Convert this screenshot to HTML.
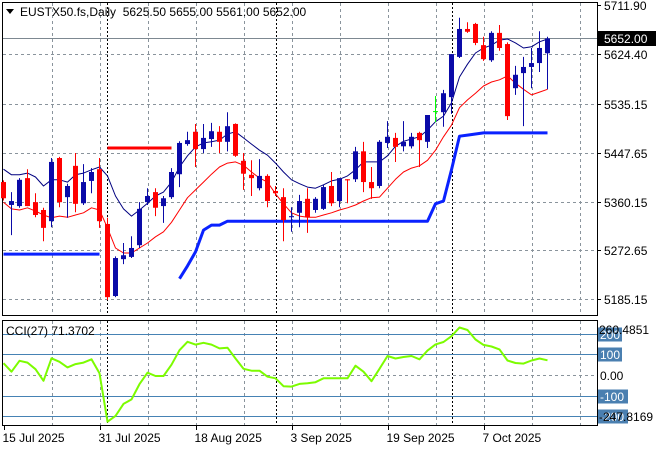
<!DOCTYPE html>
<html><head><meta charset="utf-8"><style>
html,body{margin:0;padding:0;background:#fff;}
svg{display:block;font-family:"Liberation Sans",sans-serif;font-size:12px;}
</style></head><body>
<svg id="c" width="660" height="450" viewBox="0 0 660 450" xmlns="http://www.w3.org/2000/svg"></svg>
<script>
const opens=[5395,5354,5352,5402,5359,5345,5325,5438,5368,5424,5357,5397,5418,5320,5191,5257,5261,5282,5359,5377,5352,5368,5409,5463,5485,5454,5472,5485,5467,5499,5433,5408,5384,5406,5379,5368,5332,5340,5365,5345,5347,5388,5361,5400,5400,5450,5395,5388,5465,5474,5459,5459,5483,5467,5522,5520,5547,5619,5669,5678,5640,5613,5662,5642,5563,5590,5601,5608,5625.5];
const highs=[5398,5377,5402,5418,5375,5349,5438,5440,5392,5447,5427,5420,5438,5331,5262,5286,5298,5359,5384,5384,5370,5420,5468,5485,5499,5499,5501,5495,5520,5500,5447,5434,5436,5409,5388,5384,5350,5372,5384,5368,5390,5413,5402,5400,5458,5467,5422,5470,5504,5483,5504,5483,5485,5515,5549,5560,5624,5689,5681,5680,5655,5665,5676,5645,5603,5619,5635,5665,5655];
const lows=[5362,5300,5349,5352,5332,5289,5314,5350,5331,5341,5354,5375,5313,5184,5189,5248,5259,5277,5354,5334,5322,5365,5386,5460,5422,5447,5458,5447,5450,5440,5381,5370,5380,5350,5370,5289,5306,5314,5304,5340,5345,5352,5350,5357,5395,5377,5365,5384,5456,5431,5450,5455,5422,5456,5502,5494,5517,5617,5662,5640,5612,5610,5630,5506,5551,5495,5563,5592,5561];
const closes=[5366,5361,5399,5352,5336,5313,5431,5359,5388,5356,5395,5413,5325,5189,5259,5264,5277,5347,5370,5349,5366,5413,5465,5470,5454,5474,5486,5467,5495,5442,5410,5402,5406,5361,5375,5327,5334,5361,5332,5365,5386,5357,5402,5398,5450,5395,5384,5467,5476,5458,5467,5476,5470,5515,5522,5554,5624,5669,5664,5644,5615,5662,5635,5513,5587,5601,5608,5635,5652];
const maFast=[5418,5408,5408,5411,5404,5388,5399,5399,5395,5408,5411,5417,5422,5406,5370,5347,5334,5345,5357,5370,5377,5395,5422,5442,5458,5465,5467,5470,5481,5485,5474,5463,5452,5443,5429,5413,5399,5392,5386,5384,5390,5397,5400,5406,5417,5431,5431,5431,5442,5459,5468,5472,5476,5488,5503,5513,5537,5583,5606,5626,5635,5640,5649,5651,5644,5635,5637,5646,5651];
const maSlow=[5359,5347,5345,5349,5343,5336,5331,5334,5332,5336,5340,5349,5345,5313,5277,5268,5268,5277,5286,5297,5306,5323,5345,5367,5381,5395,5409,5422,5429,5431,5425,5413,5402,5395,5374,5356,5340,5334,5332,5332,5336,5340,5345,5349,5354,5361,5367,5368,5384,5400,5413,5420,5424,5434,5452,5476,5497,5528,5542,5554,5567,5574,5578,5585,5572,5561,5551,5556,5561];
const support=[5266,5266,5266,5266,5266,5266,5266,5266,5266,5266,5266,5266,5266,null,null,null,null,null,null,null,null,null,5222,5245,5270,5309,5318,5318,5325,5325,5325,5325,5325,5325,5325,5325,5325,5325,5325,5325,5325,5325,5325,5325,5325,5325,5325,5325,5325,5325,5325,5325,5325,5325,5356,5361,5417,5477,5479,5481,5483,5483,5483,5483,5483,5483,5483,5483,5483];
const resistance=[null,null,null,null,null,null,null,null,null,null,null,null,null,5456,5456,5456,5456,5456,5456,5456,5456,5456];
const cci=[57,16,69,60,28,-28,81,64,37,53,60,76,8,-226,-198,-140,-118,-44,11,-5,-5,50,120,161,147,156,147,129,132,80,30,21,21,-8,-16,-54,-56,-43,-40,-35,-16,-16,-16,-16,45,16,-30,30,92,80,87,92,76,118,148,160,188,230,218,172,146,138,124,70,58,55,70,80,71.37];
const priceTicks=[5711.90,5624.40,5535.15,5447.65,5360.15,5272.65,5185.15];
const dateLabels=["15 Jul 2025","31 Jul 2025","18 Aug 2025","3 Sep 2025","19 Sep 2025","7 Oct 2025"];
const dateIdx=[0,12,24,36,48,60];
const lastPrice=5652.00;

const S=document.getElementById('c');
const NS='http://www.w3.org/2000/svg';
function mk(tag,attrs,parent){const e=document.createElementNS(NS,tag);for(const k in attrs)e.setAttribute(k,attrs[k]);(parent||S).appendChild(e);return e;}
const X=i=>3.5+i*8;
const Y=p=>5+(5711.9-p)*0.5587;
const CY=v=>375-v*0.2065;

// panels
let f1=mk('rect',{x:2.5,y:2.5,width:595,height:313,fill:'#fff',stroke:'#000'});


let f2=mk('rect',{x:2.5,y:320.5,width:595,height:105,fill:'#fff',stroke:'#000'});



// vertical grid
for(let gx=52;gx<597;gx+=48){
  let g=mk('line',{x1:gx+0.5,x2:gx+0.5,y1:3,y2:315,stroke:'#8a949c','stroke-dasharray':'3,3'});
  
  
  let g2=mk('line',{x1:gx+0.5,x2:gx+0.5,y1:321,y2:425,stroke:'#8a949c','stroke-dasharray':'3,3'});
  
  
}
[107,276,452].forEach(gx=>{
  let g=mk('line',{x1:gx+0.5,x2:gx+0.5,y1:3,y2:315,stroke:'#000','stroke-dasharray':'2,2'});
  
  
  let g2=mk('line',{x1:gx+0.5,x2:gx+0.5,y1:321,y2:425,stroke:'#000','stroke-dasharray':'2,2'});
  
  
});
// horizontal grid + price labels
priceTicks.forEach((p,i)=>{
  const y=Math.round(Y(p))+0.5;
  if(i>0){let g=mk('line',{x1:3,x2:597,y1:y,y2:y,stroke:'#8a949c','stroke-dasharray':'3,3'});
  
  }
  mk('line',{x1:597,x2:601,y1:y,y2:y,stroke:'#000'});
  let t=mk('text',{x:604,y:y+4.5,fill:'#000'});t.textContent=p.toFixed(2);
  
  
});
// last price line
{const y=Math.round(Y(lastPrice))+0.5;
let l=mk('line',{x1:3,x2:597,y1:y,y2:y,stroke:'#7d8891'});


let r=mk('rect',{x:598,y:y-7.5,width:58,height:15,fill:'#000'});


let t=mk('text',{x:604,y:y+4.5,fill:'#fff'});t.textContent=lastPrice.toFixed(2);

}

function poly(arr,color,w,name,fn){
  let seg=[];const segs=[];
  arr.forEach((v,i)=>{if(v===null){if(seg.length)segs.push(seg);seg=[];}else seg.push(X(i).toFixed(1)+','+fn(v).toFixed(1));});
  if(seg.length)segs.push(seg);
  segs.forEach(s=>{let p=mk('polyline',{points:s.join(' '),fill:'none',stroke:color,'stroke-width':w,'stroke-linejoin':'round'});
  
  });
}
poly(support,'#0a22ff',3,'support-line',Y);
poly(resistance,'#ff0000',3,'resistance-line',Y);
poly(maSlow,'#ff0000',1,'slow-ma-line',Y);
poly(maFast,'#000080',1,'fast-ma-line',Y);

// candles
closes.forEach((c,i)=>{
  const o=opens[i],h=highs[i],l=lows[i];
  const cx=Math.round(X(i)-0.5)+0.5;
  const col=c>o?'#0a0aa8':(c<o?'#ff0000':'#00ff00');
  let w=mk('line',{x1:cx,x2:cx,y1:Y(h),y2:Y(l),stroke:col});
  
  
  const top=Y(Math.max(o,c)),bot=Y(Math.min(o,c));
  let b=mk('rect',{x:cx-2.5,y:top,width:5,height:Math.max(1,bot-top),fill:col});
  
  
});

// CCI levels
[200,100,-100,-200].forEach(v=>{
  const y=Math.round(CY(v))+0.5;
  let l=mk('line',{x1:3,x2:597,y1:y,y2:y,stroke:'#4682b4'});
  
  
  let r=mk('rect',{x:598,y:y-7,width:v<0?30:24,height:14,fill:'#4a7fb0'});
  
  
  let t=mk('text',{x:600,y:y+4.5,fill:'#fff'});t.textContent=String(v);
  
  
});
{const y=Math.round(CY(0))+0.5;
let l=mk('line',{x1:3,x2:597,y1:y,y2:y,stroke:'#8a949c','stroke-dasharray':'3,3'});


let t=mk('text',{x:600,y:y+4.5,fill:'#000'});t.textContent='0.00';

}
{let t=mk('text',{x:599,y:334,fill:'#000'});t.textContent='260.4851';


let t2=mk('text',{x:599,y:421,fill:'#000'});t2.textContent='-247.8169';

}
poly(cci,'#7cfc00',2,'cci-line',CY);

// x axis
dateLabels.forEach((d,k)=>{
  const x=X(dateIdx[k]);
  mk('line',{x1:Math.round(x)+0.5,x2:Math.round(x)+0.5,y1:426,y2:430,stroke:'#000'});
  let t=mk('text',{x:x-1,y:442,fill:'#000'});t.textContent=d;
  
  
});

// titles
{let a=mk('path',{d:'M6 9 L14 9 L10 14 Z',fill:'#000'});


let t=mk('text',{x:20,y:16,fill:'#000'});t.textContent='EUSTX50.fs,Daily  5625.50 5655.00 5561.00 5652.00';


t.setAttribute('xml:space','preserve');t.style.whiteSpace='pre';
let c=mk('text',{x:6,y:335,fill:'#000'});c.textContent='CCI(27) 71.3702';

}
</script>
</body></html>
